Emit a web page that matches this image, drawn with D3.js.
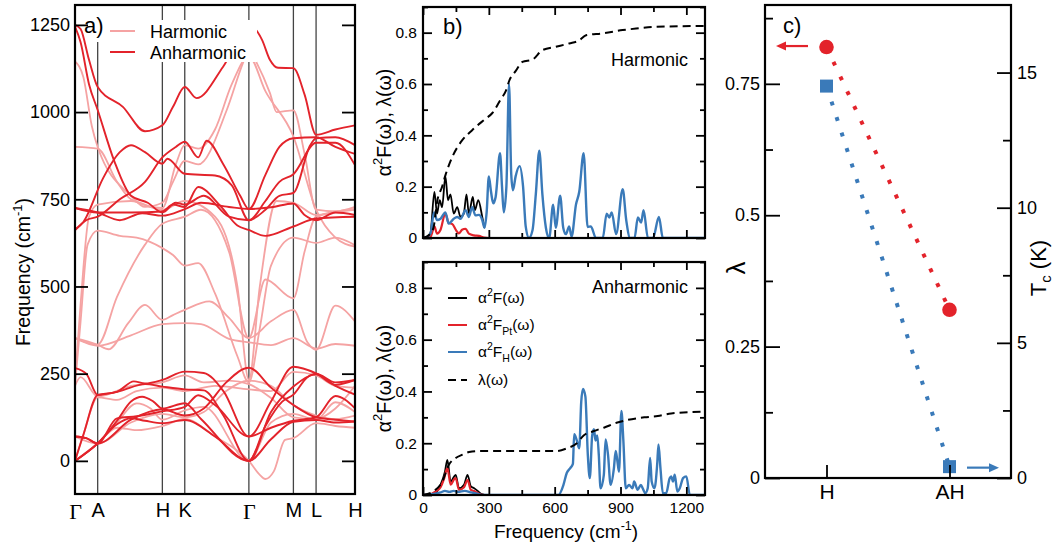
<!DOCTYPE html>
<html>
<head>
<meta charset="utf-8">
<script src="https://cdn.jsdelivr.net/npm/d3@7"></script>
<style>
body { margin: 0; background: #fff; }
svg { font-family: "Liberation Sans", Arial, Helvetica, sans-serif; }
.domain { display: none; }
</style>
</head>
<body>
<svg id="fig" width="1054" height="542"></svg>
<script>
// ---- panel a: phonon bands (k path position, frequency in cm-1)
const kLabels = ["Γ", "A", "H", "K", "Γ", "M", "L", "H"];
const kPoints = [0, 0.081, 0.312, 0.392, 0.621, 0.780, 0.861, 1.0];
const freqTicks = [0, 250, 500, 750, 1000, 1250];

const harmonicBands = [
    [[0,1145],[.03,1100],[.06,960],[.081,900],[.2,760],[.25,728],[.312,740],[.35,800],[.392,860],[.44,850],[.542,1006],[.6,1141],[.621,1180],[.649,1141],[.696,1055],[.72,1000],[.78,1005],[.82,880],[.861,720],[.93,715],[1,728]],
    [[0,900],[.081,895],[.15,800],[.2,750],[.312,725],[.36,850],[.392,905],[.44,895],[.5,950],[.56,1080],[.621,1160],[.68,1060],[.78,930],[.861,720],[.93,640],[1,614]],
    [[0,215],[.02,400],[.045,620],[.081,660],[.16,645],[.22,640],[.312,610],[.35,590],[.392,560],[.44,567],[.5,480],[.58,300],[.621,225],[.66,380],[.7,560],[.78,640],[.861,625],[.93,640],[1,618]],
    [[0,230],[.02,450],[.05,700],[.081,735],[.2,745],[.312,720],[.392,745],[.5,700],[.58,500],[.621,232],[.66,500],[.72,745],[.78,740],[.861,705],[.93,715],[1,722]],
    [[0,352],[.081,333],[.12,320],[.19,395],[.25,447],[.312,404],[.35,418],[.392,433],[.48,457],[.55,410],[.621,352],[.7,400],[.78,433],[.83,340],[.861,318],[.93,445],[1,400]],
    [[0,352],[.081,330],[.2,360],[.312,392],[.392,395],[.45,392],[.55,350],[.621,340],[.7,332],[.78,352],[.861,322],[.93,335],[1,330]],
    [[0,352],[.081,333],[.15,470],[.25,620],[.312,680],[.392,700],[.45,720],[.55,600],[.621,352],[.68,520],[.78,466],[.82,600],[.861,700],[1,720]],
    [[0,0],[.081,50],[.15,95],[.22,88],[.312,100],[.392,120],[.5,70],[.621,0],[.66,-40],[.68,-52],[.71,-30],[.75,60],[.78,65],[.861,108],[.93,100],[1,95]],
    [[0,0],[.081,50],[.15,110],[.22,165],[.27,150],[.312,118],[.392,145],[.46,155],[.621,0],[.7,110],[.78,135],[.861,118],[.93,168],[1,140]],
    [[0,0],[.03,75],[.081,182],[.15,175],[.22,200],[.312,210],[.392,200],[.5,215],[.621,205],[.7,200],[.78,255],[.861,245],[.93,215],[1,210]],
    [[0,215],[.02,240],[.081,185],[.2,215],[.312,225],[.392,245],[.46,225],[.55,230],[.621,220],[.7,180],[.78,125],[.861,120],[.93,150],[1,215]],
    [[0,70],[.081,50],[.2,110],[.312,135],[.392,125],[.46,140],[.54,200],[.621,230],[.7,215],[.78,160],[.861,130],[.93,120],[1,130]]
];

const anharmonicBands = [
    [[0,1250],[.02,1238],[.05,1150],[.081,1072],[.171,1015],[.25,945],[.312,962],[.35,1015],[.392,1072],[.434,1040],[.529,1130],[.621,1250],[.668,1207],[.696,1150],[.725,1127],[.78,1126],[.82,1050],[.861,935],[.93,950],[1,962]],
    [[0,662],[.03,685],[.1,810],[.16,885],[.2,905],[.25,885],[.312,852],[.33,866],[.392,823],[.5,818],[.56,790],[.621,690],[.68,745],[.73,800],[.78,822],[.861,912],[.93,912],[1,848]],
    [[0,725],[.081,712],[.16,690],[.24,710],[.312,703],[.392,722],[.45,740],[.55,728],[.621,722],[.7,727],[.78,738],[.82,705],[.861,690],[.93,712],[1,705]],
    [[0,725],[.081,712],[.2,712],[.312,715],[.35,735],[.392,728],[.44,785],[.52,730],[.58,675],[.621,662],[.68,645],[.78,672],[.861,695],[1,700]],
    [[0,1245],[.02,1200],[.05,1080],[.081,1006],[.14,860],[.2,760],[.26,740],[.312,712],[.36,740],[.392,735],[.46,760],[.55,700],[.621,690],[.68,720],[.73,760],[.78,768],[.84,905],[.861,925],[.93,928],[1,905]],
    [[0,662],[.04,690],[.081,700],[.16,750],[.25,800],[.312,870],[.36,900],[.392,915],[.44,870],[.47,918],[.53,850],[.59,760],[.621,722],[.68,820],[.73,900],[.78,925],[.861,928],[.93,900],[1,880]],
    [[0,0],[.081,50],[.15,105],[.2,122],[.25,115],[.312,108],[.392,117],[.5,70],[.621,0],[.7,62],[.78,112],[.861,117],[.93,110],[1,113]],
    [[0,0],[.081,50],[.15,115],[.2,170],[.24,184],[.28,170],[.312,150],[.392,165],[.45,120],[.621,0],[.68,100],[.74,170],[.78,190],[.83,240],[.861,250],[.93,225],[1,232]],
    [[0,0],[.03,75],[.081,189],[.15,198],[.21,228],[.25,222],[.312,232],[.392,256],[.46,252],[.53,200],[.621,70],[.7,95],[.78,115],[.861,125],[.93,186],[1,151]],
    [[0,70],[.04,65],[.081,50],[.15,122],[.22,128],[.312,142],[.392,155],[.44,188],[.5,160],[.621,70],[.7,170],[.78,270],[.861,251],[.93,218],[1,232]],
    [[0,266],[.04,250],[.081,189],[.16,200],[.25,220],[.312,213],[.392,205],[.46,202],[.53,130],[.621,0],[.7,140],[.78,213],[.861,248],[.93,215],[1,190]],
    [[0,70],[.04,65],[.081,50],[.2,118],[.312,148],[.392,130],[.46,150],[.54,225],[.621,267],[.7,210],[.78,160],[.861,125],[.93,118],[1,113]]
];

// ---- panel b: Eliashberg functions (frequency cm-1, value)
const specTicks = [0, 300, 600, 900, 1200];
const specYTicks = [0, 0.2, 0.4, 0.6, 0.8];

const harmTotal = [[0,0],[20,0.005],[34,0.02],[52,0.18],[64,0.095],[76,0.147],[87,0.12],[102,0.24],[114,0.147],[125,0.17],[140,0.095],[156,0.12],[171,0.082],[186,0.095],[198,0.17],[209,0.095],[227,0.16],[236,0.108],[252,0.147],[270,0.082],[280,0.04]];
const harmPt = [[0,0],[34,0.004],[52,0.045],[64,0.017],[79,0.03],[102,0.095],[117,0.058],[133,0.055],[151,0.03],[163,0.018],[178,0.032],[194,0.036],[209,0.017],[232,0.01],[255,0.008],[278,0.002],[300,0],[1285,0]];
const harmH = [[0,0],[20,0.005],[35,0.02],[50,0.1],[64,0.07],[80,0.075],[102,0.1],[117,0.056],[140,0.075],[156,0.082],[171,0.075],[194,0.108],[209,0.082],[224,0.12],[239,0.088],[255,0.09],[270,0.07],[280,0.04],[290,0.1],[300,0.24],[310,0.18],[320,0.135],[331,0.16],[351,0.33],[360,0.2],[368,0.1],[380,0.2],[392,0.6],[402,0.25],[410,0.186],[422,0.24],[440,0.28],[456,0.2],[468,0.045],[483,0],[499,0.03],[514,0.17],[530,0.34],[544,0.17],[560,0.04],[575,0],[593,0.13],[605,0.04],[625,0.165],[639,0.04],[651,0.015],[666,0.045],[677,0.005],[697,0.13],[712,0.18],[732,0.33],[750,0.043],[765,0.045],[788,0],[819,0],[837,0.095],[849,0.08],[860,0.1],[880,0.015],[910,0.19],[926,0.07],[944,0],[964,0],[979,0.08],[994,0.06],[1005,0.108],[1025,0],[1048,0],[1075,0.082],[1093,0],[1285,0]];
const harmLambda = [[0,0],[34,0.017],[49,0.045],[64,0.14],[87,0.2],[102,0.244],[133,0.315],[178,0.38],[224,0.42],[278,0.46],[316,0.487],[354,0.54],[377,0.572],[395,0.617],[422,0.65],[453,0.686],[499,0.695],[544,0.732],[605,0.745],[666,0.758],[712,0.77],[743,0.79],[819,0.797],[910,0.81],[971,0.816],[1063,0.823],[1285,0.826]];

const anhTotal = [[0,0],[57,0.008],[80,0.04],[100,0.09],[111,0.136],[126,0.052],[141,0.07],[149,0.078],[164,0.026],[187,0.04],[203,0.078],[218,0.033],[233,0.026],[249,0.016],[264,0.005],[280,0]];
const anhPt = [[0,0],[40,0.005],[60,0.015],[80,0.03],[95,0.06],[111,0.104],[126,0.04],[141,0.06],[149,0.065],[164,0.02],[187,0.03],[203,0.058],[218,0.02],[233,0.015],[249,0.008],[264,0.002],[280,0],[1285,0]];
const anhH = [[0,0],[40,0.003],[80,0.01],[100,0.016],[120,0.012],[140,0.016],[160,0.012],[190,0.016],[220,0.01],[250,0.004],[270,0],[617,0],[640,0.039],[655,0.085],[671,0.104],[683,0.12],[689,0.235],[701,0.21],[712,0.18],[721,0.36],[729,0.41],[740,0.38],[751,0.156],[760,0.065],[771,0.23],[779,0.254],[786,0.21],[794,0.23],[801,0.156],[809,0.026],[824,0.078],[832,0.215],[843,0.156],[855,0.039],[870,0.104],[878,0.17],[886,0.13],[893,0.09],[904,0.325],[913,0.21],[924,0.026],[939,0.039],[955,0.026],[962,0.052],[978,0.02],[993,0.039],[1001,0.026],[1013,0.007],[1024,0.026],[1035,0.143],[1042,0.052],[1055,0.026],[1067,0.117],[1073,0.195],[1082,0.104],[1093,0.007],[1108,0.007],[1124,0.065],[1131,0.072],[1139,0.052],[1147,0.078],[1159,0.013],[1170,0.026],[1185,0.065],[1200,0.072],[1216,0],[1285,0]];
const anhLambda = [[0,0],[57,0.02],[87,0.05],[118,0.117],[149,0.143],[180,0.156],[210,0.166],[256,0.17],[609,0.17],[655,0.18],[701,0.2],[732,0.23],[779,0.247],[824,0.26],[886,0.28],[932,0.29],[1009,0.3],[1070,0.305],[1131,0.315],[1285,0.322]];

// ---- panel c: coupling constant and Tc
const methods = ["H", "AH"];
const lambdaVals = [0.82, 0.32];
const tcVals = [14.5, 0.42];
const lambdaTicks = [0, 0.25, 0.5, 0.75];
const tcTicks = [0, 5, 10, 15];

const svg = d3.select("#fig");
const red = "#e3232b", pink = "#f5a3a3", blue = "#3a7ab9";

function styleTicks(g, size) {
    g.selectAll("line").attr("stroke", "#000").attr("stroke-width", 1.8);
    g.selectAll("text").attr("font-size", size).attr("fill", "#000");
}

function frame(g, x0, y0, x1, y1) {
    g.append("rect").attr("x", x0).attr("y", y0).attr("width", x1 - x0).attr("height", y1 - y0)
        .attr("fill", "none").attr("stroke", "#000").attr("stroke-width", 2.2);
}

// ================= panel a =================
const ax = d3.scaleLinear().domain([0, 1]).range([75, 355]);
const ay = d3.scaleLinear().domain([-95, 1307]).range([494, 5]);
const ga = svg.append("g");
ga.append("clipPath").attr("id", "clipA").append("rect")
    .attr("x", 75).attr("y", 5).attr("width", 280).attr("height", 489);

const bandLine = d3.line().x(d => ax(d[0])).y(d => ay(d[1])).curve(d3.curveMonotoneX);
const plotA = ga.append("g").attr("clip-path", "url(#clipA)");

plotA.selectAll("line.kline").data(kPoints.slice(1, -1)).enter().append("line")
    .attr("x1", d => ax(d)).attr("x2", d => ax(d)).attr("y1", 5).attr("y2", 494)
    .attr("stroke", "#444").attr("stroke-width", 1.3);

plotA.selectAll("path.harm").data(harmonicBands).enter().append("path")
    .attr("d", bandLine).attr("fill", "none").attr("stroke", pink).attr("stroke-width", 1.8);
plotA.selectAll("path.anh").data(anharmonicBands).enter().append("path")
    .attr("d", bandLine).attr("fill", "none").attr("stroke", red).attr("stroke-width", 1.9);

// legend box hides curves behind it
ga.append("rect").attr("x", 103).attr("y", 20).attr("width", 154).attr("height", 42).attr("fill", "#fff");
ga.append("rect").attr("x", 88).attr("y", 6).attr("width", 20).attr("height", 36).attr("fill", "#fff");
const legA = [{t: "Harmonic", c: pink, y: 31}, {t: "Anharmonic", c: red, y: 52}];
legA.forEach(d => {
    ga.append("line").attr("x1", 110).attr("x2", 135).attr("y1", d.y).attr("y2", d.y)
        .attr("stroke", d.c).attr("stroke-width", 2);
    ga.append("text").attr("x", 150).attr("y", d.y + 6.5).attr("font-size", 18).text(d.t);
});
ga.append("text").attr("x", 84).attr("y", 33).attr("font-size", 22).text("a)");

const aLeft = ga.append("g").attr("transform", "translate(75,0)")
    .call(d3.axisLeft(ay).tickValues(freqTicks).tickSize(-13).tickPadding(5).tickFormat(d3.format("d")));
styleTicks(aLeft, 18);
const aRight = ga.append("g").attr("transform", "translate(355,0)")
    .call(d3.axisRight(ay).tickValues(freqTicks).tickSize(-13).tickFormat(""));
styleTicks(aRight, 18);
const aBottom = ga.append("g").attr("transform", "translate(0,494)")
    .call(d3.axisBottom(ax).tickValues(kPoints).tickSize(0).tickPadding(9).tickFormat((d, i) => kLabels[i]));
styleTicks(aBottom, 20);
aBottom.selectAll("text").filter((d, i) => kLabels[i] === "Γ")
    .attr("font-family", "'Liberation Serif', 'Times New Roman', serif").attr("font-size", 22);
frame(ga, 75, 5, 355, 494);

const aTitle = ga.append("text").attr("transform", "translate(30,272) rotate(-90)")
    .attr("text-anchor", "middle").attr("font-size", 19.5);
aTitle.append("tspan").text("Frequency (cm");
aTitle.append("tspan").attr("dy", -8).attr("font-size", 13).text("-1");
aTitle.append("tspan").attr("dy", 8).text(")");

// ================= panel b =================
const bx = d3.scaleLinear().domain([0, 1285]).range([423, 705]);

function alphaLabel(sel, sub, rest, big, small) {
    sel.append("tspan").text("α");
    sel.append("tspan").attr("dy", -big * 0.45).attr("font-size", small).text("2");
    sel.append("tspan").attr("dy", big * 0.45).text("F");
    if (sub) {
        sel.append("tspan").attr("dy", big * 0.3).attr("font-size", small).text(sub);
        sel.append("tspan").attr("dy", -big * 0.3).text(rest);
    } else {
        sel.append("tspan").text(rest);
    }
}

function spectrumPanel(id, y0, y1, series, title, showX) {
    const g = svg.append("g");
    const by = d3.scaleLinear().domain([0, 0.9]).range([y1, y0]);
    g.append("clipPath").attr("id", id).append("rect")
        .attr("x", 423).attr("y", y0).attr("width", 282).attr("height", y1 - y0);
    const plot = g.append("g").attr("clip-path", `url(#${id})`);
    const line = d3.line().x(d => bx(d[0])).y(d => by(d[1])).curve(d3.curveMonotoneX);
    series.forEach(s => {
        plot.append("path").attr("d", line(s.data)).attr("fill", "none")
            .attr("stroke", s.color).attr("stroke-width", s.width)
            .attr("stroke-dasharray", s.dash || null);
    });

    const minorY = [0.1, 0.3, 0.5, 0.7, 0.9];
    const minorX = [150, 450, 750, 1050];
    const left = g.append("g").attr("transform", "translate(423,0)")
        .call(d3.axisLeft(by).tickValues(specYTicks).tickSize(-9).tickPadding(6)
            .tickFormat(d => d === 0 ? "0" : d.toFixed(1)));
    styleTicks(left, 15.5);
    styleTicks(g.append("g").attr("transform", "translate(423,0)")
        .call(d3.axisLeft(by).tickValues(minorY).tickSize(-5).tickFormat("")), 15);
    styleTicks(g.append("g").attr("transform", "translate(705,0)")
        .call(d3.axisRight(by).tickValues(specYTicks).tickSize(-9).tickFormat("")), 15);
    styleTicks(g.append("g").attr("transform", "translate(705,0)")
        .call(d3.axisRight(by).tickValues(minorY).tickSize(-5).tickFormat("")), 15);
    const bottom = g.append("g").attr("transform", `translate(0,${y1})`)
        .call(d3.axisBottom(bx).tickValues(specTicks).tickSize(-8).tickPadding(7)
            .tickFormat(showX ? d3.format("d") : ""));
    styleTicks(bottom, 15.5);
    styleTicks(g.append("g").attr("transform", `translate(0,${y1})`)
        .call(d3.axisBottom(bx).tickValues(minorX).tickSize(-5).tickFormat("")), 15);
    styleTicks(g.append("g").attr("transform", `translate(0,${y0})`)
        .call(d3.axisTop(bx).tickValues(specTicks).tickSize(-8).tickFormat("")), 15);
    styleTicks(g.append("g").attr("transform", `translate(0,${y0})`)
        .call(d3.axisTop(bx).tickValues(minorX).tickSize(-5).tickFormat("")), 15);
    frame(g, 423, y0, 705, y1);

    g.append("text").attr("x", 688).attr("y", by(0.8) + (title === "Harmonic" ? 33 : 5))
        .attr("text-anchor", "end").attr("font-size", 18).text(title);

    const yl = g.append("text")
        .attr("transform", `translate(391,${(y0 + y1) / 2}) rotate(-90)`)
        .attr("text-anchor", "middle").attr("font-size", 19.5);
    alphaLabel(yl, null, "(ω), λ(ω)", 19.5, 13);
    return {g, by};
}

const topPanel = spectrumPanel("clipB1", 7, 238, [
    {data: harmTotal, color: "#000", width: 1.8},
    {data: harmPt, color: red, width: 2.2},
    {data: harmH, color: blue, width: 2.4},
    {data: harmLambda, color: "#000", width: 2, dash: "8,5"}
], "Harmonic", false);
topPanel.g.append("text").attr("x", 443).attr("y", 34).attr("font-size", 22).text("b)");

const botPanel = spectrumPanel("clipB2", 262, 495, [
    {data: anhTotal, color: "#000", width: 1.8},
    {data: anhPt, color: red, width: 2.2},
    {data: anhH, color: blue, width: 2.4},
    {data: anhLambda, color: "#000", width: 2, dash: "8,5"}
], "Anharmonic", true);

const legB = [
    {sub: null, color: "#000", dash: null, y: 298},
    {sub: "Pt", color: red, dash: null, y: 325},
    {sub: "H", color: blue, dash: null, y: 352},
    {sub: "lambda", color: "#000", dash: "8,5", y: 380}
];
legB.forEach(d => {
    botPanel.g.append("line").attr("x1", 448).attr("x2", 467).attr("y1", d.y).attr("y2", d.y)
        .attr("stroke", d.color).attr("stroke-width", 2).attr("stroke-dasharray", d.dash);
    const t = botPanel.g.append("text").attr("x", 478).attr("y", d.y + 5).attr("font-size", 15.5);
    if (d.sub === "lambda") t.text("λ(ω)");
    else alphaLabel(t, d.sub, "(ω)", 15.5, 10.5);
});

const xt = botPanel.g.append("text").attr("x", 566).attr("y", 538).attr("text-anchor", "middle").attr("font-size", 19);
xt.append("tspan").text("Frequency (cm");
xt.append("tspan").attr("dy", -8).attr("font-size", 12.5).text("-1");
xt.append("tspan").attr("dy", 8).text(")");

// ================= panel c =================
const gc = svg.append("g");
const cx = d3.scaleLinear().domain([0.5, 2.5]).range([765, 1011]);
const cy = d3.scaleLinear().domain([0, 0.9]).range([478, 5]);
const ty = d3.scaleLinear().domain([0, 17.5]).range([478, 5]);
const idx = [1, 2];

gc.append("path")
    .attr("d", d3.line().x((d, i) => cx(idx[i])).y(d => cy(d))(lambdaVals))
    .attr("stroke", red).attr("stroke-width", 4).attr("stroke-dasharray", "4,12.3").attr("fill", "none");
gc.append("path")
    .attr("d", d3.line().x((d, i) => cx(idx[i])).y(d => ty(d))(tcVals))
    .attr("stroke", blue).attr("stroke-width", 4).attr("stroke-dasharray", "4,12.3").attr("fill", "none");

gc.selectAll("circle.lam").data(lambdaVals).enter().append("circle")
    .attr("cx", (d, i) => cx(idx[i])).attr("cy", d => cy(d)).attr("r", 7.3).attr("fill", red);
gc.selectAll("rect.tc").data(tcVals).enter().append("rect")
    .attr("x", (d, i) => cx(idx[i]) - 6.5).attr("y", d => ty(d) - 6.5)
    .attr("width", 13).attr("height", 13).attr("fill", blue);

// axis arrows
function arrow(x0, x1, y, color) {
    const dir = Math.sign(x1 - x0);
    gc.append("line").attr("x1", x0).attr("x2", x1 - dir * 7).attr("y1", y).attr("y2", y)
        .attr("stroke", color).attr("stroke-width", 2.2);
    gc.append("path")
        .attr("d", `M${x1},${y} L${x1 - dir * 10},${y - 4.5} L${x1 - dir * 10},${y + 4.5} Z`)
        .attr("fill", color);
}
arrow(808, 776, cy(lambdaVals[0]) - 1, red);
arrow(967, 999, ty(tcVals[1]) + 1, blue);

styleTicks(gc.append("g").attr("transform", "translate(765,0)")
    .call(d3.axisLeft(cy).tickValues(lambdaTicks).tickSize(-15).tickPadding(5)
        .tickFormat(d => d === 0 ? "0" : String(d))), 18);
styleTicks(gc.append("g").attr("transform", "translate(765,0)")
    .call(d3.axisLeft(cy).tickValues([0.125, 0.375, 0.625, 0.875]).tickSize(-8).tickFormat("")), 18);
styleTicks(gc.append("g").attr("transform", "translate(1011,0)")
    .call(d3.axisRight(ty).tickValues(tcTicks).tickSize(-14).tickPadding(6)), 18);
styleTicks(gc.append("g").attr("transform", "translate(1011,0)")
    .call(d3.axisRight(ty).tickValues([2.5, 7.5, 12.5]).tickSize(-8).tickFormat("")), 18);
styleTicks(gc.append("g").attr("transform", "translate(0,478)")
    .call(d3.axisBottom(cx).tickValues(idx).tickSize(-13).tickPadding(6)
        .tickFormat(d => methods[d - 1])), 21);
frame(gc, 765, 5, 1011, 478);

gc.append("text").attr("x", 783).attr("y", 33).attr("font-size", 22).text("c)");
gc.append("text").attr("transform", "translate(745,268) rotate(-90)")
    .attr("text-anchor", "middle").attr("font-size", 26).text("λ");
const tcl = gc.append("text").attr("transform", "translate(1046,268) rotate(-90)")
    .attr("text-anchor", "middle").attr("font-size", 22);
tcl.append("tspan").text("T");
tcl.append("tspan").attr("dy", 5).attr("font-size", 15).text("c");
tcl.append("tspan").attr("dy", -5).text(" (K)");
</script>
</body>
</html>
